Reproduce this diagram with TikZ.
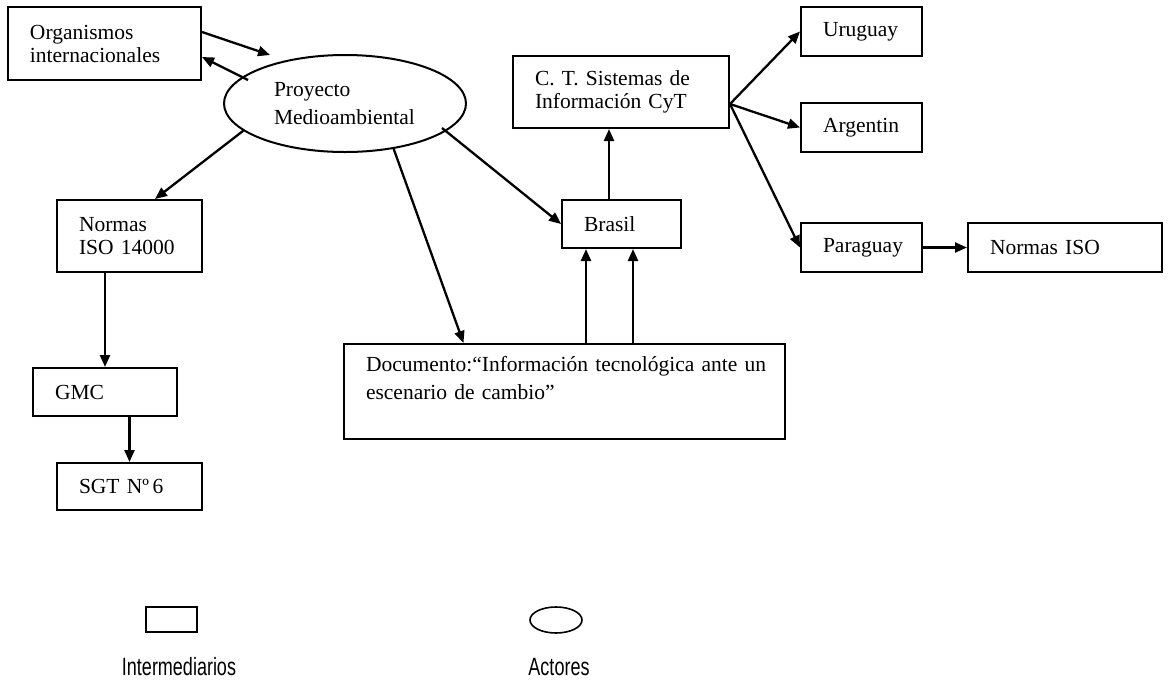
\documentclass[tikz,border=0pt]{standalone}
\usepackage{fontspec}
\setmainfont{Liberation Serif}
\newfontfamily\legendfont[FakeStretch=0.72]{Liberation Sans}
\usetikzlibrary{arrows.meta,shapes.geometric,calc}

\tikzset{
  box/.style={draw, line width=2pt, rectangle, inner xsep=22pt, inner ysep=0pt, align=left,
    font=\fontsize{21.5}{23}\selectfont},
  boxsize/.style n args={3}{minimum width=#1, text width=#2, minimum height=#3},
  actor/.style={draw, line width=2pt, ellipse, inner sep=0pt, align=left,
    font=\fontsize{21.5}{28}\selectfont},
  arr/.style={line width=2.3pt, -{Triangle[length=12pt,width=10pt]}},
  legendshape/.style={draw, line width=1.6pt, inner sep=0pt},
  legendlabel/.style={font=\legendfont\fontsize{25}{28}\selectfont, anchor=base, inner sep=0pt}
}

\begin{document}
\begin{tikzpicture}[x=1pt, y=-1pt]
  \path[fill=white, use as bounding box] (0,0) rectangle (1168,681);

  % actors and intermediaries
  \node[box, boxsize={193pt}{149pt}{73pt}] (org) at (104.5,43.5) {Organismos\\internacionales};
  \node[actor, minimum width=242pt, minimum height=97pt, text width=142pt] (proj) at (345,103.5)
    {Proyecto\\Medioambiental};
  \node[box, boxsize={145pt}{101pt}{72pt}] (norm) at (129.5,236) {Normas\\ISO 14000};
  \node[box, boxsize={144pt}{100pt}{48pt}] (gmc) at (105,392) {GMC};
  \node[box, boxsize={145pt}{101pt}{47pt}] (sgt) at (129.5,486.5) {SGT Nº\,6};
  \node[box, boxsize={441pt}{397pt}{95pt}, font=\fontsize{21.5}{28}\selectfont] (doc) at (564.5,391.5)
    {\mbox{Documento:“Información tecnológica ante un}\\\mbox{escenario de cambio”}\\~};
  \node[box, boxsize={119pt}{75pt}{48pt}] (bras) at (621.5,224) {Brasil};
  \node[box, boxsize={216pt}{172pt}{72pt}] (ct) at (621,92) {C. T. Sistemas de\\Información CyT};
  \node[box, boxsize={121pt}{77pt}{49pt}] (uru) at (861.5,31.5) {Uruguay};
  \node[box, boxsize={121pt}{77pt}{49pt}] (arg) at (861.5,127.5) {Argentin};
  \node[box, boxsize={121pt}{77pt}{49pt}] (par) at (861.5,247.5) {Paraguay};
  \node[box, boxsize={194pt}{150pt}{49pt}] (nis) at (1065,247.5) {Normas ISO};

  % connectors
  \draw[arr] ($(org.east)+(0,-11.5)$) -- ($(proj.center)+(-75,-48.5)$);
  \draw[arr] ($(proj.center)+(-97,-23.5)$) -- ($(org.east)+(0,13.5)$);
  \draw[arr] (proj.195) -- ($(norm.north)+(25.5,0)$);
  \draw[arr] (proj.-43) -- ($(doc.north)+(-101,0)$);
  \draw[arr] ($(proj.center)+(97,24.5)$) -- (bras.west);

  \coordinate (d1) at ($(bras.south)+(-35.5,0)$);
  \coordinate (d2) at ($(bras.south)+(11.5,0)$);
  \draw[arr] (d1 |- doc.north) -- (d1);
  \draw[arr] (d2 |- doc.north) -- (d2);

  \coordinate (b1) at ($(bras.north)+(-12.5,0)$);
  \draw[arr] (b1) -- (b1 |- ct.south);

  \coordinate (ctout) at ($(ct.east)+(0,12)$);
  \draw[arr] (ctout) -- (uru.west);
  \draw[arr] (ctout) -- (arg.west);
  \draw[arr] (ctout) -- (par.west);
  \draw[arr] (par.east) -- (nis.west);

  \draw[arr] (gmc.north |- norm.south) -- (gmc.north);
  \draw[arr] (sgt.north |- gmc.south) -- (sgt.north);

  % legend
  \node[legendshape, rectangle, minimum width=51pt, minimum height=25pt] (legbox) at (171.5,619.5) {};
  \node[legendshape, ellipse, minimum width=52pt, minimum height=26pt] (legell) at (556,620) {};
  \node[legendlabel] (legboxlbl) at (179,675) {Intermediarios};
  \node[legendlabel] (legelllbl) at (559,675) {Actores};
\end{tikzpicture}
\end{document}
